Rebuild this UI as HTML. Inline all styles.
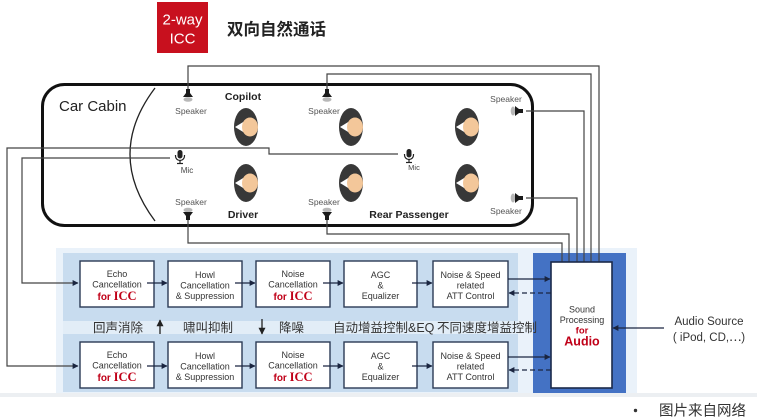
<!DOCTYPE html>
<html>
<head>
<meta charset="utf-8">
<style>
  html,body{margin:0;padding:0;background:#fff;}
  svg{display:block;}
  text{font-family:"Liberation Sans","Noto Sans CJK SC",sans-serif;}
</style>
</head>
<body>
<svg width="757" height="419" viewBox="0 0 757 419" xmlns="http://www.w3.org/2000/svg">
  <defs>
    <marker id="ah" viewBox="0 0 10 10" refX="9" refY="5" markerWidth="6" markerHeight="6" orient="auto" markerUnits="userSpaceOnUse">
      <path d="M0,0 L10,5 L0,10 z" fill="#1a2540"/>
    </marker>
    <marker id="ahb" viewBox="0 0 10 10" refX="9" refY="5" markerWidth="7" markerHeight="7" orient="auto" markerUnits="userSpaceOnUse">
      <path d="M0,0 L10,5 L0,10 z" fill="#222"/>
    </marker>
  </defs>

  <!-- Header -->
  <rect x="157" y="2" width="51" height="51" fill="#c8101e"/>
  <text x="182.5" y="24.5" font-size="15" fill="#fff" text-anchor="middle">2-way</text>
  <text x="182.5" y="43.5" font-size="15" fill="#fff" text-anchor="middle">ICC</text>
  <text x="227" y="35" font-size="16.5" font-weight="bold" fill="#222">双向自然通话</text>

  <!-- bottom strip -->
  <rect x="0" y="393" width="757" height="4" fill="#eceff2"/>

  <!-- processing panel backgrounds -->
  <rect x="56" y="248" width="581" height="145" fill="#eaf2fa"/>
  <rect x="63" y="253" width="455" height="68" fill="#c8dcef"/>
  <rect x="63" y="321" width="455" height="13" fill="#e2edf7"/>
  <rect x="63" y="334" width="455" height="58" fill="#c8dcef"/>
  <rect x="533" y="253" width="93" height="140" fill="#4472c4"/>

  <!-- Cabin -->
  <rect x="42.5" y="84.5" width="490" height="141" rx="22" ry="22" fill="none" stroke="#111" stroke-width="3"/>
  <path d="M155,88 Q105,154 155,221" fill="none" stroke="#222" stroke-width="1.3"/>
  <text x="59" y="111" font-size="15" fill="#222">Car Cabin</text>

  <!-- wires -->
  <g fill="none" stroke="#444" stroke-width="1.2">
    <path d="M188,89 V66 H599 V262"/>
    <path d="M327,89 V74 H591 V262"/>
    <path d="M526,111 H584 V262"/>
    <path d="M526,198 H577 V262"/>
    <path d="M327,220 V234 H569 V262"/>
    <path d="M188,220 V243 H562 V262"/>
    <path d="M398,154 H269 V148 H7 V366 H78" marker-end="url(#ah)"/>
    <path d="M170,158 H22 V283 H78" marker-end="url(#ah)"/>
  </g>

  <!-- Top speakers -->
  <g>
    <path d="M186,89 h4 v4 l3,4 h-10 l3,-4 z" fill="#1a1a1a"/>
    <ellipse cx="188" cy="99.5" rx="4.5" ry="2.3" fill="#b8b8b8"/>
    <text x="191" y="114" font-size="8.5" fill="#555" text-anchor="middle">Speaker</text>

    <path d="M325,89 h4 v4 l3,4 h-10 l3,-4 z" fill="#1a1a1a"/>
    <ellipse cx="327" cy="99.5" rx="4.5" ry="2.3" fill="#b8b8b8"/>
    <text x="324" y="114" font-size="8.5" fill="#555" text-anchor="middle">Speaker</text>
  </g>

  <!-- Bottom speakers -->
  <g>
    <text x="191" y="205" font-size="8.5" fill="#555" text-anchor="middle">Speaker</text>
    <ellipse cx="188" cy="210" rx="4.5" ry="2.3" fill="#b8b8b8"/>
    <path d="M183,212 h10 l-3,4 v4 h-4 v-4 z" fill="#1a1a1a"/>

    <text x="324" y="205" font-size="8.5" fill="#555" text-anchor="middle">Speaker</text>
    <ellipse cx="327" cy="210" rx="4.5" ry="2.3" fill="#b8b8b8"/>
    <path d="M322,212 h10 l-3,4 v4 h-4 v-4 z" fill="#1a1a1a"/>
  </g>

  <!-- Right speakers -->
  <g>
    <text x="506" y="102" font-size="8.5" fill="#555" text-anchor="middle">Speaker</text>
    <ellipse cx="513" cy="111" rx="2.3" ry="4.5" fill="#b8b8b8"/>
    <path d="M515,106 l4,3 h4 v4 h-4 l-4,3 z" fill="#1a1a1a"/>

    <ellipse cx="513" cy="198" rx="2.3" ry="4.5" fill="#b8b8b8"/>
    <path d="M515,193 l4,3 h4 v4 h-4 l-4,3 z" fill="#1a1a1a"/>
    <text x="506" y="214" font-size="8.5" fill="#555" text-anchor="middle">Speaker</text>
  </g>

  <!-- Mics -->
  <g fill="none" stroke="#222" stroke-width="1.2">
    <path d="M175.5,155 v1 a4.5,4.5 0 0 0 9,0 v-1"/>
    <line x1="180" y1="160.5" x2="180" y2="163"/>
    <line x1="177" y1="163.5" x2="183" y2="163.5"/>
    <path d="M404.5,154 v1 a4.5,4.5 0 0 0 9,0 v-1"/>
    <line x1="409" y1="159.5" x2="409" y2="162"/>
    <line x1="406" y1="162.5" x2="412" y2="162.5"/>
  </g>
  <rect x="177.5" y="150" width="5" height="8.5" rx="2.5" fill="#222"/>
  <rect x="406.5" y="149" width="5" height="8.5" rx="2.5" fill="#222"/>
  <text x="187" y="173" font-size="8" fill="#444" text-anchor="middle">Mic</text>
  <text x="414" y="170" font-size="7.5" fill="#444" text-anchor="middle">Mic</text>

  <!-- Heads -->
  <g>
    <g transform="translate(246,127)">
      <ellipse cx="0" cy="0" rx="12" ry="19" fill="#383838"/>
      <polygon points="-11,0 -2,-5.5 -2,5.5" fill="#fff"/>
      <ellipse cx="4" cy="0" rx="8" ry="9.5" fill="#f3c79a"/>
    </g>
    <g transform="translate(246,183)">
      <ellipse cx="0" cy="0" rx="12" ry="19" fill="#383838"/>
      <polygon points="-11,0 -2,-5.5 -2,5.5" fill="#fff"/>
      <ellipse cx="4" cy="0" rx="8" ry="9.5" fill="#f3c79a"/>
    </g>
    <g transform="translate(351,127)">
      <ellipse cx="0" cy="0" rx="12" ry="19" fill="#383838"/>
      <polygon points="-11,0 -2,-5.5 -2,5.5" fill="#fff"/>
      <ellipse cx="4" cy="0" rx="8" ry="9.5" fill="#f3c79a"/>
    </g>
    <g transform="translate(351,183)">
      <ellipse cx="0" cy="0" rx="12" ry="19" fill="#383838"/>
      <polygon points="-11,0 -2,-5.5 -2,5.5" fill="#fff"/>
      <ellipse cx="4" cy="0" rx="8" ry="9.5" fill="#f3c79a"/>
    </g>
    <g transform="translate(467,127)">
      <ellipse cx="0" cy="0" rx="12" ry="19" fill="#383838"/>
      <polygon points="-11,0 -2,-5.5 -2,5.5" fill="#fff"/>
      <ellipse cx="4" cy="0" rx="8" ry="9.5" fill="#f3c79a"/>
    </g>
    <g transform="translate(467,183)">
      <ellipse cx="0" cy="0" rx="12" ry="19" fill="#383838"/>
      <polygon points="-11,0 -2,-5.5 -2,5.5" fill="#fff"/>
      <ellipse cx="4" cy="0" rx="8" ry="9.5" fill="#f3c79a"/>
    </g>
  </g>

  <!-- seat labels -->
  <text x="243" y="100" font-size="10.5" font-weight="bold" fill="#222" text-anchor="middle">Copilot</text>
  <text x="243" y="218" font-size="10.5" font-weight="bold" fill="#222" text-anchor="middle">Driver</text>
  <text x="409" y="218" font-size="10.5" font-weight="bold" fill="#222" text-anchor="middle">Rear Passenger</text>

  <!-- Blocks upper row -->
  <g fill="#fff" stroke="#2b3a55" stroke-width="1.4">
    <rect x="80" y="261" width="74" height="46"/>
    <rect x="168" y="261" width="74" height="46"/>
    <rect x="256" y="261" width="74" height="46"/>
    <rect x="344" y="261" width="73" height="46"/>
    <rect x="433" y="261" width="75" height="46"/>
    <rect x="80" y="342" width="74" height="46"/>
    <rect x="168" y="342" width="74" height="46"/>
    <rect x="256" y="342" width="74" height="46"/>
    <rect x="344" y="342" width="73" height="46"/>
    <rect x="433" y="342" width="75" height="46"/>
    <rect x="551" y="262" width="61" height="126" stroke="#1b2a4a" stroke-width="1.6"/>
  </g>

  <!-- Block arrows -->
  <g stroke="#1a2540" stroke-width="1.3" fill="none">
    <line x1="147" y1="283" x2="167" y2="283" marker-end="url(#ah)"/>
    <line x1="235" y1="283" x2="255" y2="283" marker-end="url(#ah)"/>
    <line x1="323" y1="283" x2="343" y2="283" marker-end="url(#ah)"/>
    <line x1="412" y1="283" x2="432" y2="283" marker-end="url(#ah)"/>
    <line x1="147" y1="366" x2="167" y2="366" marker-end="url(#ah)"/>
    <line x1="235" y1="366" x2="255" y2="366" marker-end="url(#ah)"/>
    <line x1="323" y1="366" x2="343" y2="366" marker-end="url(#ah)"/>
    <line x1="412" y1="366" x2="432" y2="366" marker-end="url(#ah)"/>
    <line x1="508" y1="279" x2="550" y2="279" marker-end="url(#ah)"/>
    <line x1="551" y1="293" x2="509" y2="293" stroke-dasharray="5,3" marker-end="url(#ah)"/>
    <line x1="508" y1="357" x2="550" y2="357" marker-end="url(#ah)"/>
    <line x1="551" y1="370" x2="509" y2="370" stroke-dasharray="5,3" marker-end="url(#ah)"/>
    <line x1="664" y1="328" x2="613" y2="328" marker-end="url(#ah)"/>
    <line x1="160" y1="334" x2="160" y2="320" marker-end="url(#ahb)" stroke="#222"/>
    <line x1="262" y1="319" x2="262" y2="334" marker-end="url(#ahb)" stroke="#222"/>
  </g>

  <!-- Block texts -->
  <g font-size="9" fill="#333" text-anchor="middle">
    <text x="117" y="277">Echo</text>
    <text x="117" y="287.5">Cancellation</text>
    <text x="205" y="278">Howl</text>
    <text x="205" y="288.5">Cancellation</text>
    <text x="205" y="299">&amp; Suppression</text>
    <text x="293" y="277">Noise</text>
    <text x="293" y="287.5">Cancellation</text>
    <text x="380.5" y="278">AGC</text>
    <text x="380.5" y="288.5">&amp;</text>
    <text x="380.5" y="299">Equalizer</text>
    <text x="470.5" y="278">Noise &amp; Speed</text>
    <text x="470.5" y="288.5">related</text>
    <text x="470.5" y="299">ATT Control</text>

    <text x="117" y="358">Echo</text>
    <text x="117" y="368.5">Cancellation</text>
    <text x="205" y="359">Howl</text>
    <text x="205" y="369.5">Cancellation</text>
    <text x="205" y="380">&amp; Suppression</text>
    <text x="293" y="358">Noise</text>
    <text x="293" y="368.5">Cancellation</text>
    <text x="380.5" y="359">AGC</text>
    <text x="380.5" y="369.5">&amp;</text>
    <text x="380.5" y="380">Equalizer</text>
    <text x="470.5" y="359">Noise &amp; Speed</text>
    <text x="470.5" y="369.5">related</text>
    <text x="470.5" y="380">ATT Control</text>

    <text x="582" y="312.5">Sound</text>
    <text x="582" y="323">Processing</text>
  </g>

  <!-- for ICC -->
  <g fill="#c00018" font-weight="bold">
    <text x="117" y="300" text-anchor="middle"><tspan font-size="10">for </tspan><tspan font-size="12.5" font-family="'Liberation Serif',serif">ICC</tspan></text>
    <text x="293" y="300" text-anchor="middle"><tspan font-size="10">for </tspan><tspan font-size="12.5" font-family="'Liberation Serif',serif">ICC</tspan></text>
    <text x="117" y="381" text-anchor="middle"><tspan font-size="10">for </tspan><tspan font-size="12.5" font-family="'Liberation Serif',serif">ICC</tspan></text>
    <text x="293" y="381" text-anchor="middle"><tspan font-size="10">for </tspan><tspan font-size="12.5" font-family="'Liberation Serif',serif">ICC</tspan></text>
    <text x="582" y="333.5" text-anchor="middle" font-size="9.5">for</text>
    <text x="582" y="345.5" text-anchor="middle" font-size="12.5">Audio</text>
  </g>

  <!-- Chinese row labels -->
  <g font-size="12.5" fill="#333">
    <text x="93" y="332">回声消除</text>
    <text x="183" y="332">啸叫抑制</text>
    <text x="279" y="332">降噪</text>
    <text x="333" y="332">自动增益控制&amp;EQ</text>
    <text x="437" y="332">不同速度增益控制</text>
  </g>

  <!-- Audio source -->
  <text x="709" y="325" font-size="11.5" fill="#333" text-anchor="middle">Audio Source</text>
  <text x="709" y="341" font-size="11.5" fill="#333" text-anchor="middle">( iPod, CD,⋯)</text>

  <!-- Footer -->
  <circle cx="635.5" cy="410.5" r="1.7" fill="#333"/>
  <text x="659" y="415.5" font-size="14.5" fill="#333">图片来自网络</text>
</svg>
</body>
</html>
